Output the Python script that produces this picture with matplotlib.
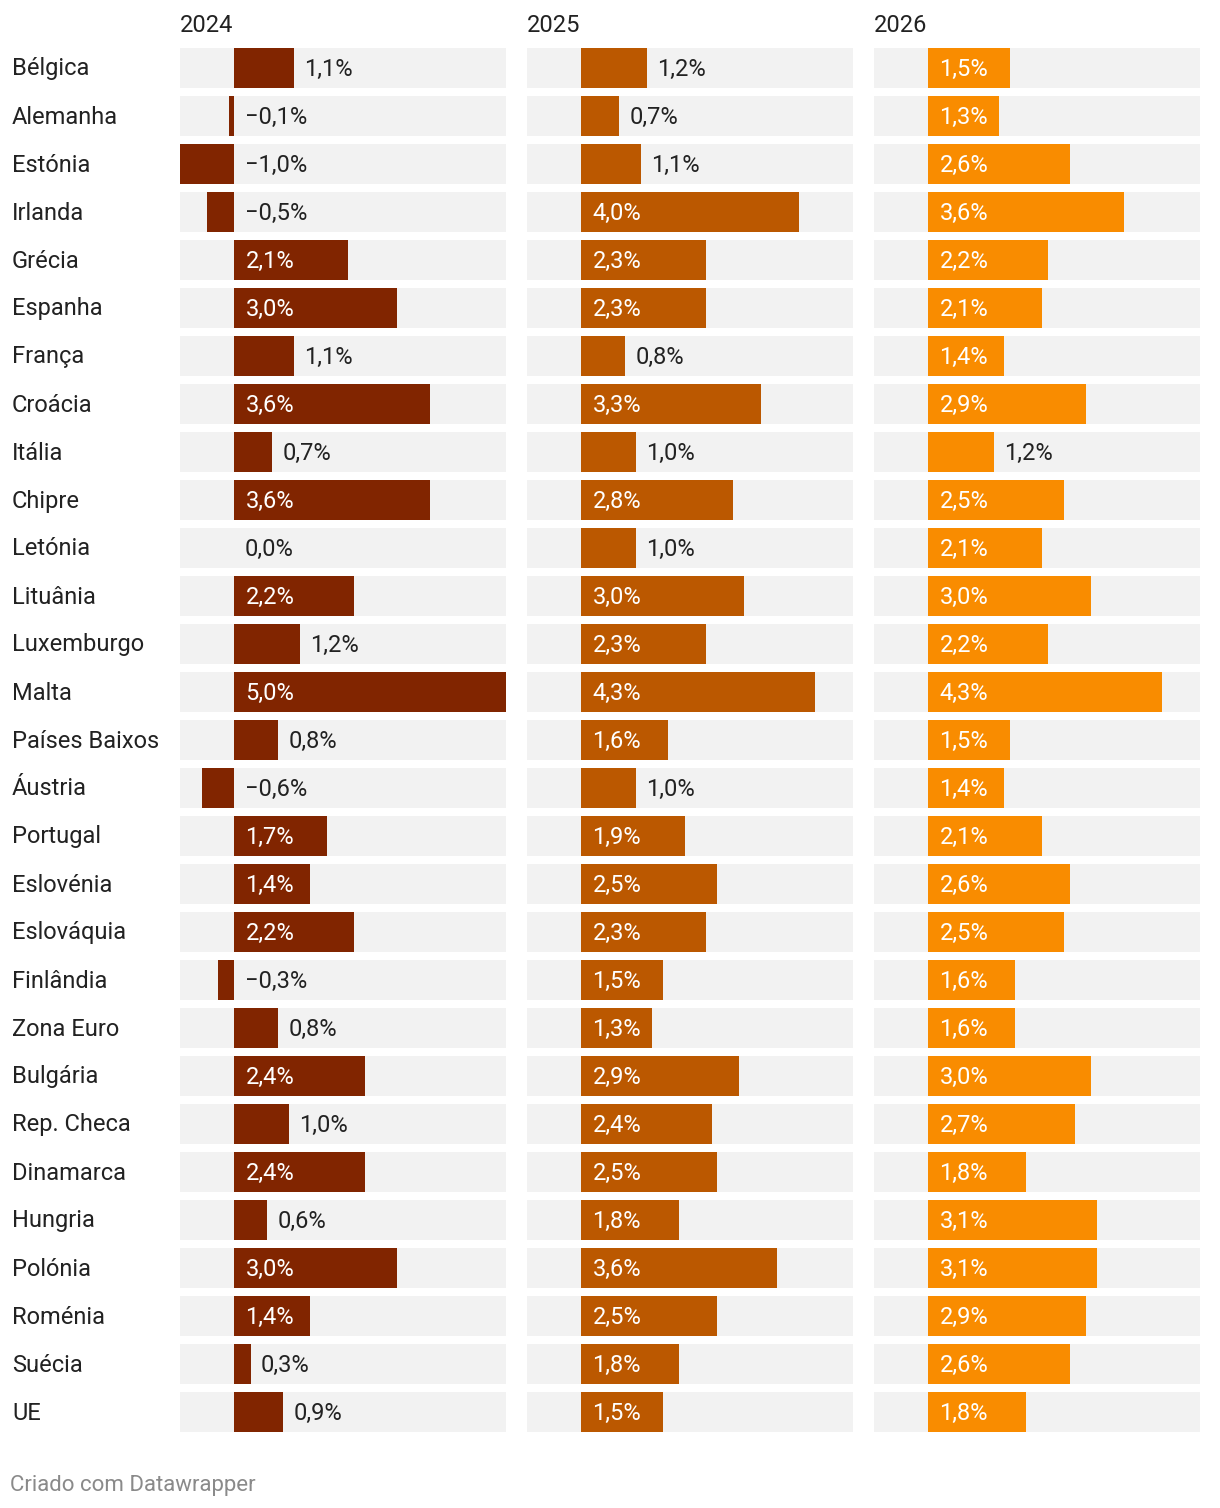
import matplotlib
matplotlib.use("Agg")
import matplotlib.pyplot as plt

countries = [
    "Bélgica", "Alemanha", "Estónia", "Irlanda", "Grécia", "Espanha", "França",
    "Croácia", "Itália", "Chipre", "Letónia", "Lituânia", "Luxemburgo", "Malta",
    "Países Baixos", "Áustria", "Portugal", "Eslovénia", "Eslováquia", "Finlândia",
    "Zona Euro", "Bulgária", "Rep. Checa", "Dinamarca", "Hungria", "Polónia",
    "Roménia", "Suécia", "UE",
]
v2024 = [1.1, -0.1, -1.0, -0.5, 2.1, 3.0, 1.1, 3.6, 0.7, 3.6, 0.0, 2.2, 1.2, 5.0,
         0.8, -0.6, 1.7, 1.4, 2.2, -0.3, 0.8, 2.4, 1.0, 2.4, 0.6, 3.0, 1.4, 0.3, 0.9]
v2025 = [1.2, 0.7, 1.1, 4.0, 2.3, 2.3, 0.8, 3.3, 1.0, 2.8, 1.0, 3.0, 2.3, 4.3,
         1.6, 1.0, 1.9, 2.5, 2.3, 1.5, 1.3, 2.9, 2.4, 2.5, 1.8, 3.6, 2.5, 1.8, 1.5]
v2026 = [1.5, 1.3, 2.6, 3.6, 2.2, 2.1, 1.4, 2.9, 1.2, 2.5, 2.1, 3.0, 2.2, 4.3,
         1.5, 1.4, 2.1, 2.6, 2.5, 1.6, 1.6, 3.0, 2.7, 1.8, 3.1, 3.1, 2.9, 2.6, 1.8]
years = ["2024", "2025", "2026"]

plt.rcParams["font.family"] = ["Roboto", "DejaVu Sans"]

W, H = 1220, 1508
fig = plt.figure(figsize=(W / 100, H / 100), dpi=100)

colors = ["#812500", "#bb5800", "#f98c00"]
panel_left = [180, 527, 874]
panel_w = 326
top, bottom = 44, 1436
n = len(countries)
fs = 17
text_col = "#222222"

for p, (vals, year, col) in enumerate(zip([v2024, v2025, v2026], years, colors)):
    ax = fig.add_axes([panel_left[p] / W, 1 - bottom / H, panel_w / W, (bottom - top) / H])
    ax.set_xlim(-1, 5)
    ax.set_ylim(n - 0.5, -0.5)
    ax.axis("off")
    ys = list(range(n))
    ax.barh(ys, [6] * n, left=-1, height=40 / 48, color="#f2f2f2", linewidth=0)
    ax.barh(ys, vals, left=0, height=40 / 48, color=col, linewidth=0)
    for i, v in enumerate(vals):
        lab = f"{v:.1f}".replace(".", ",").replace("-", "\u2212") + "%"
        if v >= 1.3:
            ax.annotate(lab, xy=(0, i), xytext=(8, -0.8), textcoords="offset points",
                        ha="left", va="center", color="white", fontsize=fs)
        else:
            ax.annotate(lab, xy=(max(v, 0), i), xytext=(7.5, -0.8), textcoords="offset points",
                        ha="left", va="center", color=text_col, fontsize=fs)
    fig.text(panel_left[p] / W, 1 - 25 / H, year, ha="left", va="center",
             fontsize=fs, color=text_col)

for i, c in enumerate(countries):
    fig.text(12 / W, 1 - (69 + 48 * i) / H, c, ha="left", va="center",
             fontsize=fs, color=text_col)

fig.text(10 / W, 1 - 1485 / H, "Criado com Datawrapper", ha="left", va="center",
         fontsize=16, color="#8a8a8a")

fig.savefig("out.png", dpi=100)
